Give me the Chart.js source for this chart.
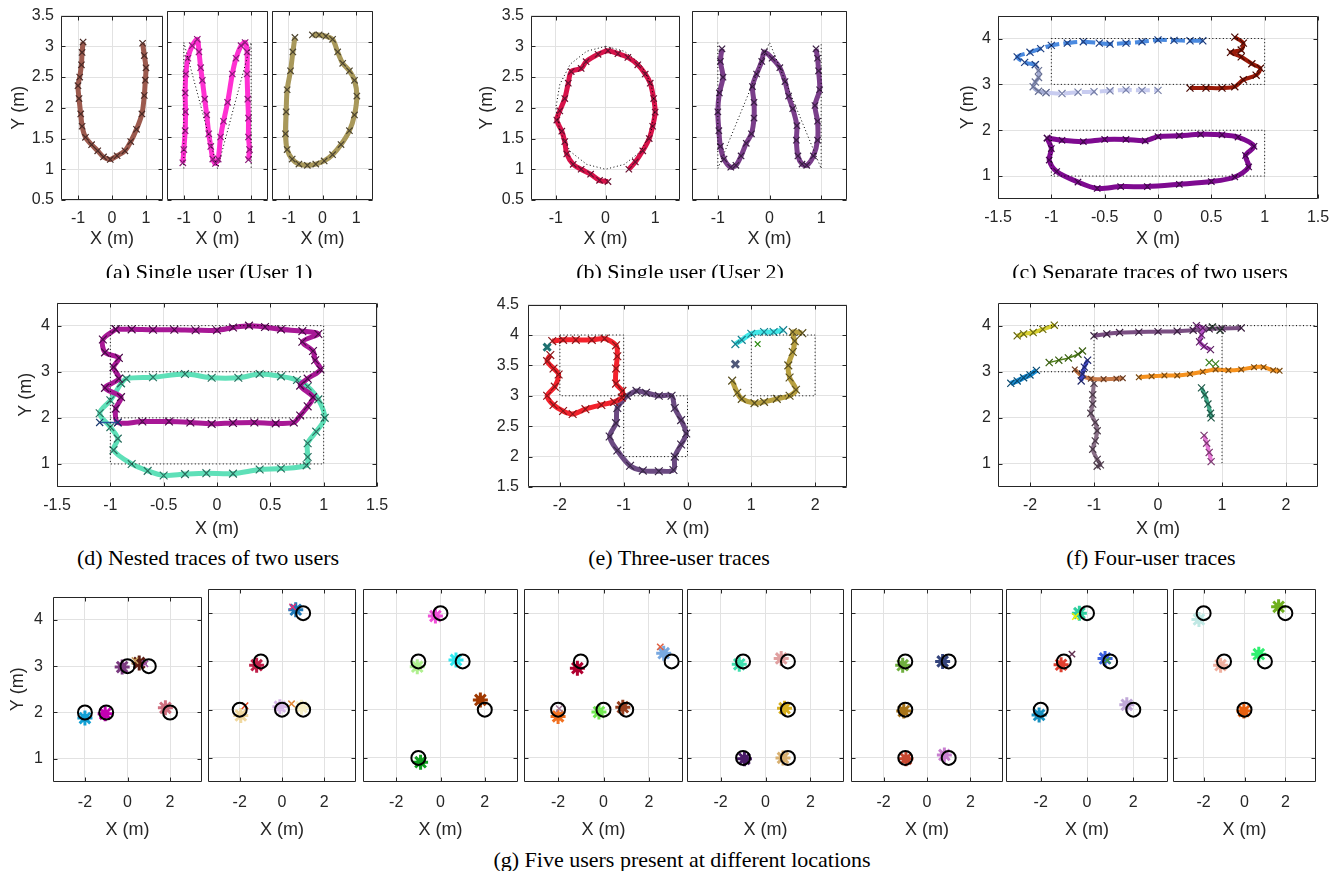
<!DOCTYPE html>
<html><head><meta charset="utf-8">
<script src="https://cdn.jsdelivr.net/npm/chart.js@4"></script>
<style>
html,body{margin:0;padding:0;background:#fff}
body{width:1338px;height:871px;overflow:hidden;position:relative}
canvas{position:absolute}
.cap{position:absolute;font-family:"Liberation Serif","Times New Roman",serif;font-size:22px;line-height:22px;white-space:nowrap;color:#000;transform:translateX(-50%)}
.clip{position:absolute;left:0;top:0;width:1338px;overflow:hidden}
</style></head><body>
<script>
// ---------- tick arrays ----------
const ticksA_x = [-1, 0, 1];
const ticksA_y = [0.5, 1, 1.5, 2, 2.5, 3, 3.5];
const ticksC_x = [-1.5, -1, -0.5, 0, 0.5, 1, 1.5];
const ticksC_y = [1, 2, 3, 4];
const ticksE_x = [-2, -1, 0, 1, 2];
const ticksE_y = [1.5, 2, 2.5, 3, 3.5, 4, 4.5];
const ticksG_x = [-2, 0, 2];
const ticksG_y = [1, 2, 3, 4];

// ---------- (a) single user 1 ----------
const a1_U = [[-0.85,3.07],[-0.88,2.9],[-0.9,2.7],[-0.95,2.5],[-1.0,2.36],[-0.97,2.15],[-0.92,1.9],[-0.88,1.7],[-0.78,1.52],[-0.6,1.4],[-0.42,1.3],[-0.25,1.2],[-0.05,1.16],[0.15,1.22],[0.38,1.3],[0.55,1.45],[0.72,1.65],[0.88,1.9],[0.95,2.2],[0.98,2.45],[1.0,2.65],[0.95,2.85],[0.9,3.05]];
const a2_M = [[-1.03,1.09],[-1.0,1.3],[-0.96,1.6],[-0.95,1.9],[-0.96,2.2],[-0.94,2.5],[-0.88,2.75],[-0.75,2.95],[-0.6,3.05],[-0.55,2.85],[-0.5,2.6],[-0.45,2.4],[-0.38,2.1],[-0.32,1.85],[-0.26,1.55],[-0.2,1.35],[-0.14,1.15],[-0.06,1.08],[0.02,1.15],[0.09,1.5],[0.18,1.75],[0.3,2.05],[0.44,2.5],[0.55,2.75],[0.7,2.95],[0.82,3.0],[0.88,2.85],[0.88,2.5],[0.9,2.1],[0.92,1.8],[0.92,1.5],[0.95,1.3],[0.92,1.14]];
const a2_truth = [[-1,1],[-1,3],[0,1],[1,3],[1,1]];
const a3_D = [[-0.82,3.08],[-0.88,2.85],[-0.95,2.55],[-1.05,2.25],[-1.08,1.9],[-1.1,1.55],[-1.05,1.3],[-0.9,1.15],[-0.7,1.07],[-0.45,1.05],[-0.2,1.07],[0.05,1.12],[0.3,1.22],[0.55,1.38],[0.8,1.6],[0.95,1.85],[1.02,2.15],[0.95,2.4],[0.8,2.55],[0.6,2.67],[0.45,2.85],[0.3,3.05],[0.1,3.1],[-0.1,3.12],[-0.3,3.12]];

// ---------- (b) single user 2 ----------
const b1_O = [[0.47,1.0],[0.6,1.12],[0.75,1.3],[0.88,1.5],[0.95,1.7],[1.0,1.93],[0.97,2.15],[0.9,2.4],[0.8,2.55],[0.65,2.7],[0.45,2.82],[0.25,2.88],[0.05,2.93],[-0.15,2.87],[-0.39,2.75],[-0.49,2.64],[-0.69,2.59],[-0.75,2.4],[-0.82,2.15],[-0.92,1.95],[-0.98,1.8],[-0.88,1.62],[-0.82,1.45],[-0.78,1.25],[-0.65,1.08],[-0.49,1.0],[-0.3,0.92],[-0.12,0.82],[0.05,0.8]];
const b1_truth = [[0,3],[0.38,2.92],[0.71,2.71],[0.92,2.38],[1,2],[0.92,1.62],[0.71,1.29],[0.38,1.08],[0,1],[-0.38,1.08],[-0.71,1.29],[-0.92,1.62],[-1,2],[-0.92,2.38],[-0.71,2.71],[-0.38,2.92],[0,3]];
const b2_W = [[-0.92,2.9],[-0.95,2.7],[-0.9,2.45],[-0.97,2.2],[-1.0,1.9],[-0.98,1.6],[-0.95,1.35],[-0.88,1.15],[-0.75,1.02],[-0.65,1.05],[-0.55,1.2],[-0.45,1.4],[-0.35,1.55],[-0.3,1.8],[-0.3,2.05],[-0.33,2.3],[-0.25,2.5],[-0.15,2.7],[-0.1,2.85],[0.05,2.75],[0.2,2.6],[0.3,2.38],[0.37,2.15],[0.45,1.95],[0.53,1.68],[0.52,1.45],[0.55,1.2],[0.63,1.07],[0.72,1.05],[0.85,1.2],[0.93,1.45],[0.93,1.75],[0.88,2.0],[0.97,2.25],[0.95,2.55],[0.93,2.75],[0.9,2.9]];
const b2_truth = [[-1,3],[-1,1],[0,3],[1,1],[1,3]];

// ---------- (c) separate traces ----------
const c_blue = [[0.42,3.95],[0.3,3.95],[0.15,3.96],[0.0,3.97],[-0.15,3.93],[-0.3,3.9],[-0.45,3.88],[-0.55,3.9],[-0.7,3.93],[-0.85,3.9],[-1.0,3.85],[-1.1,3.78],[-1.2,3.7],[-1.32,3.6],[-1.25,3.48],[-1.15,3.43]];
const c_gray = [[-1.15,3.43],[-1.12,3.3],[-1.12,3.15],[-1.15,3.05],[-1.17,2.95],[-1.12,2.85],[-1.05,2.82]];
const c_lav = [[-1.05,2.82],[-0.9,2.8],[-0.75,2.83],[-0.6,2.84],[-0.45,2.86],[-0.3,2.88],[-0.15,2.87],[0.0,2.87]];
const c_red = [[0.72,4.03],[0.8,3.9],[0.78,3.75],[0.68,3.7],[0.78,3.6],[0.88,3.45],[0.96,3.35],[0.92,3.2],[0.8,3.1],[0.72,2.95],[0.6,2.92],[0.45,2.92],[0.3,2.92]];
const c_purple = [[-1.04,1.83],[-0.9,1.78],[-0.7,1.75],[-0.5,1.8],[-0.3,1.8],[-0.12,1.77],[0,1.86],[0.2,1.88],[0.4,1.91],[0.6,1.9],[0.75,1.85],[0.9,1.65],[0.82,1.45],[0.85,1.2],[0.72,0.98],[0.5,0.88],[0.2,0.82],[-0.1,0.77],[-0.35,0.77],[-0.57,0.73],[-0.75,0.87],[-0.95,1.1],[-1.02,1.35],[-1.0,1.6],[-1.04,1.83]];
const c_truthTop = [[-1,4],[1,4],[1,3],[-1,3],[-1,4]];
const c_truthBot = [[-1,2],[1,2],[1,1],[-1,1],[-1,2]];

// ---------- (d) nested traces ----------
const d_magenta = [[-0.95,3.92],[-0.8,3.92],[-0.6,3.91],[-0.4,3.91],[-0.2,3.9],[0.0,3.9],[0.15,3.96],[0.3,4.0],[0.45,3.97],[0.6,3.92],[0.8,3.88],[0.95,3.82],[0.8,3.65],[0.9,3.45],[0.92,3.25],[0.97,3.05],[0.85,2.85],[0.78,2.7],[0.9,2.45],[0.85,2.25],[0.78,2.05],[0.72,1.9],[0.55,1.88],[0.35,1.9],[0.15,1.89],[-0.05,1.87],[-0.25,1.9],[-0.45,1.92],[-0.7,1.92],[-0.93,1.9],[-0.95,2.2],[-0.9,2.45],[-1.05,2.65],[-0.92,2.85],[-0.97,3.1],[-0.92,3.3],[-1.05,3.42],[-1.07,3.7],[-0.95,3.92]];
const d_aqua = [[-0.9,2.75],[-0.85,2.85],[-0.6,2.88],[-0.3,2.95],[-0.05,2.87],[0.2,2.87],[0.4,2.95],[0.6,2.9],[0.75,2.82],[0.85,2.68],[0.95,2.4],[1.01,2.0],[0.93,1.7],[0.85,1.45],[0.85,1.15],[0.84,0.97],[0.6,0.9],[0.4,0.88],[0.15,0.79],[-0.1,0.8],[-0.3,0.78],[-0.5,0.75],[-0.65,0.85],[-0.8,1.0],[-0.97,1.3],[-0.93,1.55],[-1.0,1.8],[-1.1,2.1],[-1.0,2.38],[-0.9,2.75]];
const d_blue = [[-1.1,1.9],[-0.93,1.9]];
const d_truthOuter = [[-1,4],[1,4],[1,1],[-1,1],[-1,4]];
const d_truth3 = [[-1,3],[1,3]];
const d_truth2 = [[-1,2],[1,2]];

// ---------- (e) three users ----------
const e_red = [[-2.15,3.67],[-2.2,3.57],[-2.1,3.45],[-2.02,3.35],[-2.08,3.15],[-2.2,3.0],[-2.1,2.85],[-1.95,2.75],[-1.8,2.7],[-1.6,2.78],[-1.35,2.85],[-1.15,2.9],[-1.03,2.97],[-1.02,3.08],[-1.12,3.2],[-1.12,3.45],[-1.1,3.65],[-1.12,3.83],[-1.3,3.94],[-1.5,3.92],[-1.75,3.92],[-1.95,3.92],[-2.12,3.9]];
const e_purple = [[-0.95,3.0],[-0.8,3.08],[-0.65,3.05],[-0.45,3.0],[-0.25,3.0],[-0.2,2.8],[-0.1,2.6],[-0.02,2.38],[-0.1,2.2],[-0.2,2.0],[-0.22,1.78],[-0.45,1.76],[-0.7,1.77],[-0.9,1.85],[-1.1,2.1],[-1.22,2.33],[-1.12,2.55],[-1.1,2.8],[-0.95,3.0]];
const e_cyan = [[0.75,3.85],[0.85,3.92],[1.0,4.02],[1.2,4.05],[1.35,4.05],[1.5,4.08]];
const e_olive = [[1.8,4.03],[1.65,4.05],[1.68,3.9],[1.65,3.72],[1.58,3.5],[1.6,3.3],[1.7,3.1],[1.6,3.0],[1.4,2.95],[1.2,2.9],[1.05,2.88],[0.85,2.95],[0.78,3.05],[0.7,3.25]];
const e_teal = [[-2.2,3.8]];
const e_slate = [[0.75,3.52]];
const e_green = [[1.1,3.85]];
const e_truth1 = [[-2,4],[-1,4],[-1,3],[-2,3],[-2,4]];
const e_truth2 = [[-1,3],[0,3],[0,2],[-1,2],[-1,3]];
const e_truth3 = [[1,4],[2,4],[2,3],[1,3],[1,4]];

// ---------- (f) four users ----------
const f_yellow = [[-2.2,3.78],[-2.1,3.82],[-1.95,3.85],[-1.8,3.92],[-1.62,4.01]];
const f_green = [[-1.7,3.2],[-1.55,3.25],[-1.4,3.3],[-1.25,3.38],[-1.18,3.45]];
const f_blue = [[-2.3,2.75],[-2.2,2.8],[-2.1,2.87],[-2.0,2.93],[-1.9,3.03]];
const f_indigo = [[-1.1,3.25],[-1.15,3.1],[-1.18,2.95],[-1.2,2.8]];
const f_purple = [[-1.0,3.78],[-0.8,3.82],[-0.6,3.85],[-0.3,3.86],[0,3.87],[0.3,3.88],[0.55,3.9],[0.8,3.93],[1.0,3.94],[1.3,3.95]];
const f_magenta = [[0.6,4.0],[0.7,3.95],[0.68,3.8],[0.65,3.65],[0.72,3.55],[0.82,3.48]];
const f_orange = [[-0.3,2.88],[-0.1,2.9],[0.1,2.92],[0.3,2.92],[0.5,2.95],[0.7,3.0],[0.9,3.05],[1.1,3.03],[1.3,3.05],[1.5,3.1],[1.65,3.1],[1.8,3.03],[1.9,3.02]];
const f_tan = [[-1.3,3.05],[-1.2,2.92],[-1.05,2.85],[-0.85,2.84],[-0.65,2.85],[-0.55,2.86]];
const f_mauve = [[-1.0,2.75],[-1.02,2.5],[-1.02,2.3],[-1.05,2.1],[-0.98,1.9],[-0.95,1.72],[-0.98,1.5],[-1.02,1.32],[-0.95,1.1],[-0.9,0.98],[-0.95,0.95]];
const f_teal = [[0.68,2.65],[0.73,2.5],[0.78,2.3],[0.82,2.1],[0.83,2.0]];
const f_pink = [[0.72,1.62],[0.76,1.45],[0.8,1.25],[0.83,1.05]];
const f_dark = [[0.85,3.97],[0.97,3.9]];
const f_green2 = [[0.8,3.2],[0.9,3.17]];
const f_truth1 = [[-2,4],[2.5,4]];
const f_truth2 = [[-2,3],[-1,3],[-1,4]];
const f_truth3 = [[1,4],[1,1]];

// ---------- (g) five users, 8 snapshots ----------
const g1_truth = [[-2,2],[-1,2],[0,3],[1,3],[2,2]];
const g1_users = [[-2.0,1.88],[-1.05,1.97],[-0.25,2.98],[0.55,3.07],[1.78,2.1]];
const g1_extra = [[0.82,3.05],[0.35,3.12]];
const g2_truth = [[-2,2],[-1,3],[0,2],[1,2],[1,4]];
const g2_users = [[0.65,4.07],[-1.2,2.92],[-1.95,1.88],[-0.1,2.06],[0.92,2.05]];
const g2_extra = [[0.5,4.13],[-1.75,2.08],[0.45,2.12]];
const g3_truth = [[0,4],[-1,3],[1,3],[2,2],[-1,1]];
const g3_users = [[-0.23,3.94],[-1.05,2.89],[0.7,3.03],[1.8,2.2],[-0.9,0.91]];
const g3_extra = [];
const g4_truth = [[-1,3],[3,3],[-2,2],[0,2],[1,2]];
const g4_users = [[-1.15,2.86],[2.65,3.17],[-2.0,1.86],[-0.2,1.95],[0.85,2.05]];
const g4_extra = [[-1.95,2.02],[2.5,3.3]];
const g5_truth = [[-1,3],[1,3],[1,2],[-1,1],[1,1]];
const g5_users = [[-1.17,2.94],[0.7,3.06],[0.85,2.03],[-0.94,0.98],[0.78,1.0]];
const g5_extra = [];
const g6_truth = [[-1,3],[1,3],[-1,2],[-1,1],[1,1]];
const g6_users = [[-1.12,2.92],[0.72,3.0],[-1.07,1.97],[-0.97,0.98],[0.8,1.06]];
const g6_extra = [];
const g7_truth = [[0,4],[-1,3],[1,3],[-2,2],[2,2]];
const g7_users = [[-0.33,4.0],[-1.12,2.93],[0.78,3.06],[1.72,2.1],[-2.07,1.89]];
const g7_extra = [[-0.5,3.93],[0.88,3.02],[-0.65,3.15]];
const g8_truth = [[-2,4],[-1,3],[1,3],[2,4],[0,2]];
const g8_users = [[-2.23,3.87],[-1.17,2.92],[0.7,3.15],[1.67,4.13],[-0.03,1.97]];
const g8_extra = [];

// ---------- styles (colours) ----------
const gColors = [
  ['#12a0d4','#c400b4','#7a3a80','#5a1a10','#d07080'],
  ['#1f78b8','#c0204a','#f0d8a0','#d8b8e8','#f8f0c8'],
  ['#f050d8','#b0f090','#30e8f0','#a03800','#10a020'],
  ['#b00030','#78a8e0','#f07020','#70e850','#984020'],
  ['#40e0b0','#e0a0a0','#d8b020','#4a1a68','#d8b070'],
  ['#70b040','#34447c','#a87418','#c84830','#c880d0'],
  ['#30d0a0','#e04030','#3a60e0','#c0a8d8','#1890c0'],
  ['#c0e8e4','#f0b0a0','#30f070','#70b020','#e86010']
];
const gExtraColors = [
  ['#a050a8','#c8a060'],
  ['#e0307a','#f04a20','#e08838'],
  [],
  ['#a07898','#e06040'],
  [], [],
  ['#f0f000','#40a040','#603050'],
  []
];

// ---------- helpers ----------
Chart.defaults.font.family = '"Liberation Sans", Arial, Helvetica, sans-serif';
Chart.defaults.color = '#262626';
const TICK_FONT = 16, TITLE_FONT = 18;
const P = arr => arr.map(([x, y]) => ({x, y}));
function trace(arr, line, mark, o) {
  return Object.assign({data: P(arr), borderColor: line, borderWidth: 5, tension: 0.3, fill: false,
    pointStyle: 'crossRot', pointRadius: 4.5, pointBorderColor: mark, pointBackgroundColor: 'rgba(0,0,0,0)', pointBorderWidth: 1.2}, o || {});
}
function truth(arr) {
  return {data: P(arr), borderColor: '#000', borderWidth: 1, borderDash: [1, 2.5], pointRadius: 0, tension: 0, fill: false};
}
function marks(arr, col, r, w) {
  return {data: P(arr), showLine: false, pointStyle: 'crossRot', pointRadius: r || 4, pointBorderColor: col, pointBackgroundColor: col, pointBorderWidth: w || 1.2};
}
const fmt = v => String(Math.round(v * 10) / 10);

const boxPlugin = {
  id: 'matlabBox',
  afterDatasetsDraw(chart) {
    const {ctx, chartArea: a, scales: {x, y}} = chart;
    ctx.save();
    ctx.strokeStyle = '#262626';
    ctx.lineWidth = 1;
    const L = Math.round(a.left) + 0.5, T = Math.round(a.top) + 0.5, R = Math.round(a.right) - 0.5, B = Math.round(a.bottom) - 0.5;
    ctx.beginPath();
    ctx.rect(L, T, R - L, B - T);
    const tl = 4;
    x.ticks.forEach(t => {
      const p = Math.round(x.getPixelForValue(t.value)) + 0.5;
      ctx.moveTo(p, B); ctx.lineTo(p, B - tl);
      ctx.moveTo(p, T); ctx.lineTo(p, T + tl);
    });
    y.ticks.forEach(t => {
      const p = Math.round(y.getPixelForValue(t.value)) + 0.5;
      ctx.moveTo(L, p); ctx.lineTo(L + tl, p);
      ctx.moveTo(R, p); ctx.lineTo(R - tl, p);
    });
    ctx.stroke();
    ctx.restore();
  }
};

function mk(s) {
  const [l, t, r, b] = s.plot;
  const T = 12, R = 22;
  const W = r - l + s.L + R, H = b - t + T + s.B;
  const cv = document.createElement('canvas');
  cv.width = W; cv.height = H;
  cv.style.left = (l - s.L) + 'px'; cv.style.top = (t - T) + 'px';
  cv.style.width = W + 'px'; cv.style.height = H + 'px';
  document.body.appendChild(cv);
  new Chart(cv, {
    type: 'line',
    data: {datasets: s.datasets},
    options: {
      responsive: false, animation: false, devicePixelRatio: 1, events: [],
      layout: {padding: {left: 0, top: T, right: R, bottom: 0}},
      plugins: {legend: {display: false}, tooltip: {enabled: false}},
      scales: {
        x: {type: 'linear', min: s.xr[0], max: s.xr[1],
          afterBuildTicks: sc => { sc.ticks = s.xt.map(v => ({value: v})); },
          afterFit: sc => { sc.height = s.B; },
          grid: {color: '#e2e2e2', drawTicks: false}, border: {display: false},
          ticks: {padding: s.xpad, font: {size: TICK_FONT}, color: '#262626', callback: fmt, maxRotation: 0, autoSkip: false},
          title: {display: true, text: 'X (m)', font: {size: TITLE_FONT}, color: '#262626', padding: 0}},
        y: {type: 'linear', min: s.yr[0], max: s.yr[1],
          afterBuildTicks: sc => { sc.ticks = s.yt.map(v => ({value: v})); },
          afterFit: sc => { sc.width = s.L; },
          grid: {color: '#e2e2e2', drawTicks: false}, border: {display: false},
          ticks: {display: !!s.ylab, padding: s.ypad || 7, font: {size: TICK_FONT}, color: '#262626', callback: fmt, autoSkip: false},
          title: {display: !!s.ytitle, text: 'Y (m)', font: {size: TITLE_FONT}, color: '#262626', padding: 0}}
      }
    },
    plugins: [boxPlugin]
  });
}

function caption(text, cx, baseline, parent) {
  const d = document.createElement('div');
  d.className = 'cap';
  d.textContent = text;
  d.style.left = cx + 'px';
  d.style.top = (baseline - 18.4) + 'px';
  (parent || document.body).appendChild(d);
}

// ---------- row 1 ----------
const rowA = {xr: [-1.5, 1.5], yr: [0.5, 3.5], xt: ticksA_x, yt: ticksA_y, B: 50, xpad: 9, ypad: 7};
mk(Object.assign({}, rowA, {plot: [61, 11, 163, 200], L: 53, ylab: true, ytitle: true,
  datasets: [trace(a1_U, '#9c5a4e', '#4a2a26')]}));
mk(Object.assign({}, rowA, {plot: [167, 11, 268, 200], L: 14,
  datasets: [truth(a2_truth), trace(a2_M, '#ff30d2', '#8a1a78')]}));
mk(Object.assign({}, rowA, {plot: [272, 11, 373, 200], L: 14,
  datasets: [trace(a3_D, '#a8985a', '#4d4530')]}));
mk(Object.assign({}, rowA, {plot: [531, 11, 680, 200], L: 55, ylab: true, ytitle: true,
  datasets: [truth(b1_truth), trace(b1_O, '#d8124a', '#6a1030')]}));
mk(Object.assign({}, rowA, {plot: [692, 11, 847, 200], L: 14,
  datasets: [truth(b2_truth), trace(b2_W, '#7a3e8a', '#3a1e44')]}));
mk({plot: [998, 11, 1318, 199], L: 41, ylab: true, ytitle: true, xr: [-1.5, 1.5], yr: [0.5, 4.5], xt: ticksC_x, yt: ticksC_y, B: 51, xpad: 9, ypad: 7,
  datasets: [truth(c_truthTop), truth(c_truthBot),
    trace(c_blue, '#4a8ae0', '#1f3f80', {borderDash: [14, 4], borderWidth: 4, pointRadius: 5}),
    trace(c_gray, '#a4acd4', '#6a7294', {borderWidth: 4, pointRadius: 5}),
    trace(c_lav, '#c8ccf0', '#7880a8', {borderDash: [14, 4], borderWidth: 4, pointRadius: 5}),
    trace(c_red, '#9a1a08', '#4a0a04', {borderWidth: 4, pointRadius: 5}),
    trace(c_purple, '#7e0a90', '#40084a')]});

// ---------- row 2 ----------
const rowD = {B: 53, xpad: 9};
mk(Object.assign({}, rowD, {plot: [57, 298, 377, 487], L: 42, ylab: true, ytitle: true, ypad: 7,
  xr: [-1.5, 1.5], yr: [0.5, 4.5], xt: ticksC_x, yt: ticksC_y,
  datasets: [truth(d_truthOuter), truth(d_truth3), truth(d_truth2),
    trace(d_blue, '#2a5aa0', '#1a3a70', {borderWidth: 1.5, pointRadius: 5}),
    trace(d_magenta, '#a81896', '#4a0a48', {pointRadius: 5.5}),
    trace(d_aqua, '#5ee0b8', '#2a7060', {pointRadius: 5.5})]}));
mk(Object.assign({}, rowD, {plot: [528, 298, 847, 487], L: 40, ylab: true, ypad: 9,
  xr: [-2.5, 2.5], yr: [1.5, 4.5], xt: ticksE_x, yt: ticksE_y,
  datasets: [truth(e_truth1), truth(e_truth2), truth(e_truth3),
    marks(e_teal, '#1d7070', 5, 3), marks(e_slate, '#505878', 5, 3), marks(e_green, '#2a8a10', 4, 1.2),
    trace(e_cyan, '#40e8e8', '#1a8090', {pointRadius: 5.5}),
    trace(e_olive, '#b8a040', '#5a5020', {pointRadius: 5.5}),
    trace(e_red, '#f3222c', '#8b1518', {pointRadius: 5.5}),
    trace(e_purple, '#6b4a82', '#3a2848', {pointRadius: 5.5})]}));
mk(Object.assign({}, rowD, {plot: [998, 298, 1318, 487], L: 40, ylab: true, ypad: 7,
  xr: [-2.5, 2.5], yr: [0.5, 4.5], xt: ticksE_x, yt: ticksC_y,
  datasets: [truth(f_truth1), truth(f_truth2), truth(f_truth3),
    marks(f_dark, '#2a3a30', 5, 1.5), marks(f_green2, '#3a8020', 5, 1.2),
    trace(f_magenta, '#b850c8', '#5a2060', {borderWidth: 4, pointRadius: 5}),
    trace(f_purple, '#7a4e82', '#3a2040', {borderWidth: 4, pointRadius: 5}),
    trace(f_yellow, '#d8d030', '#6a6a10', {borderWidth: 4, pointRadius: 5}),
    trace(f_green, '#508018', '#3a6010', {borderWidth: 1.5, pointRadius: 5}),
    trace(f_blue, '#1890d8', '#0a4a70', {borderWidth: 5, pointRadius: 5}),
    trace(f_indigo, '#4048c8', '#202868', {borderWidth: 4, pointRadius: 5}),
    trace(f_orange, '#f6921e', '#7a4a10', {borderWidth: 4, pointRadius: 4}),
    trace(f_tan, '#c87a48', '#6a3a20', {borderWidth: 4, pointRadius: 4}),
    trace(f_mauve, '#8a7088', '#4a3a48', {borderWidth: 4, pointRadius: 5}),
    trace(f_teal, '#40a888', '#205848', {borderWidth: 4, pointRadius: 5}),
    trace(f_pink, '#e878d8', '#7a3a70', {borderWidth: 4, pointRadius: 5})]}));

// ---------- row 3 ----------
const gPlots = [[53, 589, 202, 782], [208, 589, 356, 782], [363, 589, 518, 782], [524, 589, 683, 782],
  [687, 589, 844, 782], [851, 589, 1003, 782], [1006, 589, 1168, 782], [1173, 589, 1316, 782]];
const gTruths = [g1_truth, g2_truth, g3_truth, g4_truth, g5_truth, g6_truth, g7_truth, g8_truth];
const gUsers = [g1_users, g2_users, g3_users, g4_users, g5_users, g6_users, g7_users, g8_users];
const gExtras = [g1_extra, g2_extra, g3_extra, g4_extra, g5_extra, g6_extra, g7_extra, g8_extra];
gPlots.forEach((pl, i) => {
  const ds = [{data: P(gTruths[i]), showLine: false, pointStyle: 'circle', pointRadius: 7, pointBorderWidth: 2,
    pointBorderColor: '#000', pointBackgroundColor: 'rgba(0,0,0,0)'}];
  gExtras[i].forEach((pt, k) => ds.push(marks([pt], gExtraColors[i][k], 4.5, 1.5)));
  gUsers[i].forEach((pt, k) => {
    const c = gColors[i][k];
    ds.push({data: P([pt]), showLine: false, pointStyle: 'star', pointRadius: 7.5, pointBorderWidth: 3, pointBorderColor: c, pointBackgroundColor: c});
    ds.push({data: P([pt]), showLine: false, pointStyle: 'rectRot', pointRadius: 5.5, pointBorderWidth: 0, pointBorderColor: c, pointBackgroundColor: c});
  });
  mk({plot: pl, L: i === 0 ? 46 : 14, ylab: i === 0, ytitle: i === 0, ypad: 10, xr: [-3.5, 3.5], yr: [0.5, 4.5],
    xt: ticksG_x, yt: ticksG_y, B: 59, xpad: 11, datasets: ds});
});

// ---------- captions ----------
const clip = document.createElement('div');
clip.className = 'clip'; clip.style.height = '278px';
document.body.appendChild(clip);
caption('(a) Single user (User 1)', 209, 279, clip);
caption('(b) Single user (User 2)', 680, 279, clip);
caption('(c) Separate traces of two users', 1150, 279, clip);
caption('(d) Nested traces of two users', 208, 565);
caption('(e) Three-user traces', 679, 565);
caption('(f) Four-user traces', 1151, 565);
caption('(g) Five users present at different locations', 682, 867);
</script>
</body></html>
